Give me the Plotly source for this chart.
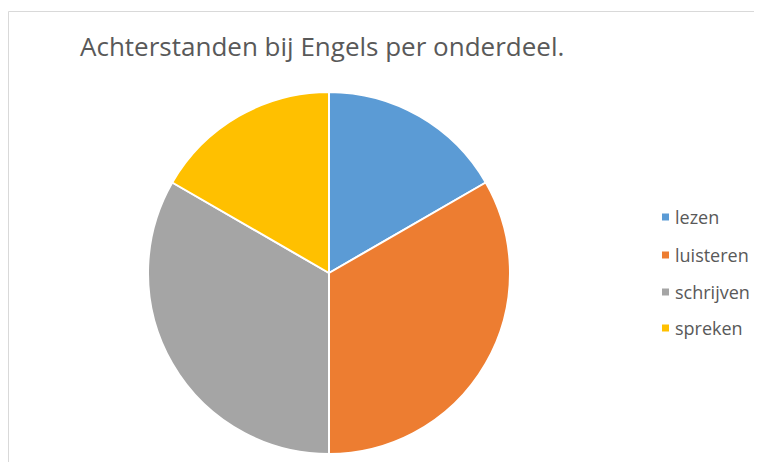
import plotly.graph_objects as go

labels = ["lezen", "luisteren", "schrijven", "spreken"]
values = [1, 2, 2, 1]
colors = ["#5B9BD5", "#ED7D31", "#A5A5A5", "#FFC000"]
title = "Achterstanden bij Engels per onderdeel."

OFF = 8  # page body margin
W, H = 762 - 2 * OFF, 470 - 2 * OFF
FONT = "Open Sans, Carlito, Calibri, sans-serif"
TXT = "#595959"


def px(x):
    return (x - OFF) / W


def py(y):
    return 1 - (y - OFF) / H


fig = go.Figure(go.Pie(
    labels=labels, values=values, sort=False, direction="clockwise", rotation=0,
    marker=dict(colors=colors, line=dict(color="white", width=2)),
    textinfo="none", hoverinfo="label+value+percent", showlegend=False,
    domain=dict(x=[px(148), px(510)], y=[py(455), py(91)]),
))

shapes = [dict(type="rect", xref="paper", yref="paper",
               x0=0.5 / W, x1=1.2, y0=-0.2, y1=py(11.5),
               line=dict(color="#D9D9D9", width=1), fillcolor="rgba(0,0,0,0)")]
annotations = [dict(text=title, x=px(78), y=py(46), xref="paper", yref="paper",
                    xanchor="left", yanchor="middle", showarrow=False,
                    font=dict(family=FONT, size=26, color=TXT))]

leg_y = [217, 255, 292, 328]
for lab, col, yy in zip(labels, colors, leg_y):
    shapes.append(dict(type="rect", xref="paper", yref="paper",
                       x0=px(662), x1=px(669), y0=py(yy + 3.5), y1=py(yy - 3.5),
                       line=dict(width=0), fillcolor=col))
    annotations.append(dict(text=lab, x=px(673), y=py(yy), xref="paper", yref="paper",
                            xanchor="left", yanchor="middle", showarrow=False,
                            font=dict(family=FONT, size=18, color=TXT)))

fig.update_layout(width=W, height=H, margin=dict(l=0, r=0, t=0, b=0),
                  paper_bgcolor="white", plot_bgcolor="white",
                  shapes=shapes, annotations=annotations)
fig.write_html("out.html")
